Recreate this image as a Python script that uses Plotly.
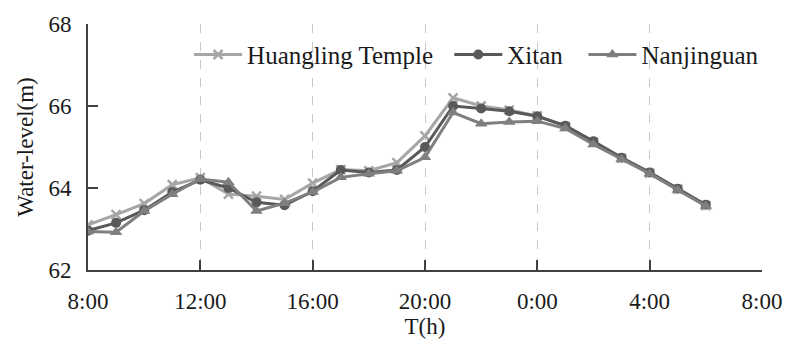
import plotly.graph_objects as go

# Hours elapsed since 8:00 on the first day
hours = list(range(0, 23))
tick_vals = [0, 4, 8, 12, 16, 20, 24]
tick_text = ["8:00", "12:00", "16:00", "20:00", "0:00", "4:00", "8:00"]

huangling = [63.10, 63.35, 63.62, 64.08, 64.25, 63.85, 63.80, 63.72, 64.12,
             64.45, 64.42, 64.62, 65.27, 66.20, 66.00, 65.90, 65.76,
             65.50, 65.12, 64.72, 64.36, 63.97, 63.57]
xitan = [62.96, 63.15, 63.46, 63.90, 64.20, 64.00, 63.65, 63.58, 63.92,
         64.44, 64.38, 64.44, 65.00, 66.00, 65.94, 65.87, 65.75,
         65.52, 65.14, 64.74, 64.38, 63.98, 63.59]
nanjinguan = [62.94, 62.92, 63.44, 63.85, 64.22, 64.14, 63.44, 63.63, 63.90,
              64.26, 64.35, 64.42, 64.75, 65.84, 65.57, 65.61, 65.63,
              65.45, 65.06, 64.70, 64.35, 63.95, 63.56]

font_family = "'Times New Roman', 'Liberation Serif', 'DejaVu Serif', serif"

fig = go.Figure()
fig.add_trace(go.Scatter(
    x=hours, y=huangling, name="Huangling Temple", mode="lines+markers",
    line=dict(color="#a6a6a6", width=3), legend="legend",
    marker=dict(symbol="x-thin", size=9, line=dict(color="#a6a6a6", width=2.5)),
))
fig.add_trace(go.Scatter(
    x=hours, y=xitan, name="Xitan", mode="lines+markers",
    line=dict(color="#595959", width=3), legend="legend2",
    marker=dict(symbol="circle", size=10, color="#595959"),
))
fig.add_trace(go.Scatter(
    x=hours, y=nanjinguan, name="Nanjinguan", mode="lines+markers",
    line=dict(color="#7f7f7f", width=3), legend="legend3",
    marker=dict(symbol="triangle-up", size=11, color="#7f7f7f"),
))

# One legend box per series so each entry can sit at its own spot
legend_style = dict(
    orientation="h", xanchor="left", y=0.875, yanchor="middle",
    font=dict(family=font_family, size=25, color="#1a1a1a"),
    bgcolor="rgba(0,0,0,0)", itemwidth=48,
)

fig.update_layout(
    width=794, height=347,
    margin=dict(l=88, r=26, t=17, b=77),
    paper_bgcolor="white", plot_bgcolor="white",
    font=dict(family=font_family, size=23, color="#1a1a1a"),
    showlegend=True,
    legend=dict(x=0.15, **legend_style),
    legend2=dict(x=0.536, **legend_style),
    legend3=dict(x=0.735, **legend_style),
    xaxis=dict(
        range=[0, 24], tickmode="array", tickvals=tick_vals, ticktext=tick_text,
        showgrid=True, gridcolor="#c8c8c8", griddash="dash", gridwidth=1.2,
        showline=True, linecolor="#404040", linewidth=2,
        ticks="inside", ticklen=10, tickcolor="#404040", tickwidth=1.5,
        ticklabelstandoff=9, zeroline=False,
        title=dict(text="T(h)", standoff=0, font=dict(size=23)),
    ),
    yaxis=dict(
        range=[62, 68], tickvals=[62, 64, 66, 68],
        showgrid=False, zeroline=False,
        showline=True, linecolor="#404040", linewidth=2,
        ticks="inside", ticklen=10, tickcolor="#404040", tickwidth=1.5,
        ticklabelstandoff=10,
        title=dict(text="Water-level(m)", standoff=8, font=dict(size=23)),
    ),
)

fig.write_html("out.html")
